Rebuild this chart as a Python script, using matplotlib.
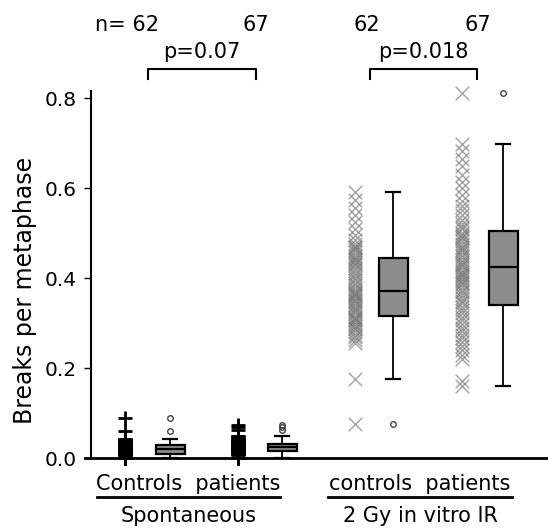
import numpy as np
import matplotlib
matplotlib.use("Agg")
import matplotlib.pyplot as plt

# breaks per metaphase, one value per person
spont_controls = [0.0, 0.0, 0.0, 0.0, 0.0, 0.004, 0.006, 0.006, 0.008, 0.008,
                  0.010, 0.010, 0.010, 0.010, 0.010, 0.010, 0.010,
                  0.012, 0.012, 0.014, 0.014, 0.014, 0.016, 0.016, 0.016, 0.018, 0.018,
                  0.018, 0.020, 0.020, 0.020, 0.020,
                  0.020, 0.022, 0.022, 0.022, 0.024, 0.024, 0.024, 0.026, 0.026, 0.026,
                  0.028, 0.028, 0.028, 0.028, 0.030,
                  0.030, 0.030, 0.032, 0.032, 0.034, 0.034, 0.036, 0.036, 0.038, 0.040,
                  0.040, 0.042, 0.042, 0.060, 0.088]
spont_patients = [0.0, 0.0, 0.0, 0.0, 0.006, 0.008, 0.010, 0.010, 0.012,
                  0.012, 0.014, 0.014, 0.014, 0.016, 0.016, 0.016, 0.016, 0.016,
                  0.018, 0.018, 0.018, 0.020, 0.020, 0.020, 0.020, 0.022, 0.022, 0.022,
                  0.022, 0.024, 0.024, 0.024, 0.024, 0.024,
                  0.024, 0.026, 0.026, 0.026, 0.028, 0.028, 0.028, 0.030, 0.030, 0.030,
                  0.030, 0.032, 0.032, 0.032, 0.032, 0.032, 0.032,
                  0.034, 0.034, 0.036, 0.036, 0.038, 0.038, 0.040, 0.040, 0.042, 0.044,
                  0.046, 0.048, 0.050, 0.062, 0.068, 0.074]
ir_controls = [0.076, 0.176,
               0.256, 0.262, 0.268, 0.274, 0.280, 0.286, 0.290, 0.294, 0.298, 0.302,
               0.306, 0.310, 0.312, 0.314, 0.320,
               0.324, 0.328, 0.332, 0.336, 0.340, 0.344, 0.348, 0.352, 0.356, 0.360,
               0.362, 0.364, 0.366, 0.368, 0.374,
               0.378, 0.384, 0.390, 0.396, 0.400, 0.406, 0.412, 0.418, 0.422, 0.428,
               0.432, 0.436, 0.440, 0.442, 0.446,
               0.452, 0.458, 0.462, 0.466, 0.468, 0.470, 0.476, 0.484, 0.496, 0.508,
               0.524, 0.540, 0.556, 0.574, 0.592]
ir_patients = [0.160, 0.172, 0.220, 0.230, 0.240, 0.250, 0.258, 0.266, 0.274, 0.282,
               0.290, 0.298, 0.306, 0.314, 0.322, 0.330, 0.336, 0.344,
               0.350, 0.356, 0.362, 0.368, 0.374, 0.380, 0.386, 0.390, 0.394, 0.398,
               0.402, 0.406, 0.410, 0.414, 0.418, 0.424,
               0.428, 0.432, 0.436, 0.440, 0.446, 0.452, 0.458, 0.462, 0.466, 0.470,
               0.476, 0.482, 0.488, 0.492, 0.496, 0.500, 0.508,
               0.514, 0.520, 0.530, 0.540, 0.550, 0.560, 0.572, 0.584, 0.600, 0.614,
               0.630, 0.648, 0.664, 0.682, 0.698, 0.812]

groups = [spont_controls, spont_patients, ir_controls, ir_patients]
n_labels = ["n= 62", "67", "62", "67"]
p_labels = ["p=0.07", "p=0.018"]
sub_labels = ["Controls  patients", "controls  patients"]
cond_labels = ["Spontaneous", "2 Gy in vitro IR"]

# layout
scatter_x = [1.25, 2.38, 3.55, 4.62]
box_x = [1.70, 2.82, 3.93, 5.03]
markers = ["+", "+", "x", "x"]
mcolors = ["black", "black", "#7a7a7a", "#7a7a7a"]

fig = plt.figure(figsize=(5.48, 5.29), dpi=100)
ax = fig.add_axes([91 / 548, 1 - 458 / 529, 1 - 91 / 548, 0.815 * 450 / 529])

for x, vals, m, c in zip(scatter_x, groups, markers, mcolors):
    if m == "+":
        ax.scatter(np.full(len(vals), x), vals, marker=m, s=110, c=c,
                   linewidths=2.0, clip_on=False, zorder=3)
    else:
        ax.scatter(np.full(len(vals), x), vals, marker=m, s=95, c=c,
                   linewidths=1.1, alpha=0.65, clip_on=False, zorder=3)

bp = ax.boxplot(groups, positions=box_x, widths=0.29, patch_artist=True,
                whis=1.5, capwidths=0.14, manage_ticks=False,
                boxprops=dict(facecolor="#8c8c8c", edgecolor="black", linewidth=1.6),
                medianprops=dict(color="black", linewidth=1.6),
                whiskerprops=dict(color="black", linewidth=1.3),
                capprops=dict(color="black", linewidth=1.6),
                flierprops=dict(marker="o", markersize=4, markerfacecolor="none",
                                markeredgecolor="#444444", markeredgewidth=1.0))
for fl in bp["fliers"]:
    fl.set_clip_on(False)

ax.set_xlim(0.91, 5.48)
ax.set_ylim(0, 0.815)
ax.set_yticks([0.0, 0.2, 0.4, 0.6, 0.8])
ax.set_yticklabels(["0.0", "0.2", "0.4", "0.6", "0.8"])
ax.set_xticks([])
ax.tick_params(axis="y", length=5, width=1, pad=5, labelsize=14.5)
ax.spines["top"].set_visible(False)
ax.spines["right"].set_visible(False)
ax.spines["left"].set_linewidth(1.5)
ax.spines["bottom"].set_linewidth(2)
ax.spines["bottom"].set_bounds(0.85, 5.48)
ax.set_ylabel("Breaks per metaphase", fontsize=17)
ax.yaxis.set_label_coords(-0.118, 0.456)

# sample sizes
n_x = [1.27, 2.56, 3.67, 4.78]
for x, t in zip(n_x, n_labels):
    ax.text(x, 0.962, t, ha="center", va="center", fontsize=15, clip_on=False)

# p-value brackets
brackets = [(1.48, 2.56), (3.70, 4.77)]
for (x0, x1), t in zip(brackets, p_labels):
    ax.plot([x0, x0, x1, x1], [0.842, 0.864, 0.864, 0.842], color="black",
            lw=1.5, clip_on=False)
    ax.text((x0 + x1) / 2, 0.902, t, ha="center", va="center", fontsize=15,
            clip_on=False)

# group labels below the axis
spans = [(0.97, 2.80), (3.28, 5.12)]
for (x0, x1), s, c in zip(spans, sub_labels, cond_labels):
    ax.text((x0 + x1) / 2, -0.058, s, ha="center", va="center", fontsize=15,
            clip_on=False)
    ax.plot([x0, x1], [-0.087, -0.087], color="black", lw=2, clip_on=False)
    ax.text((x0 + x1) / 2, -0.128, c, ha="center", va="center", fontsize=15,
            clip_on=False)

fig.savefig("out.png", dpi=100)
